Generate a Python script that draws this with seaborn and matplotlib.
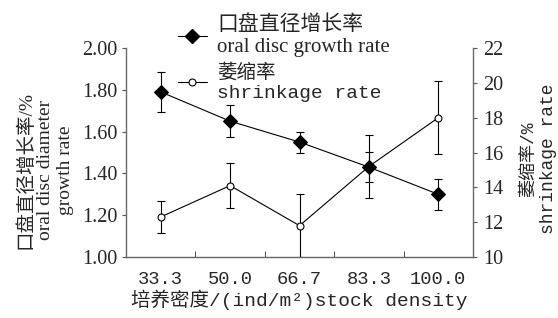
import matplotlib
matplotlib.use("Agg")
import matplotlib.pyplot as plt
import seaborn as sns
import pandas as pd
import numpy as np
from matplotlib.lines import Line2D

densities = ["33.3", "50.0", "66.7", "83.3", "100.0"]
growth_rate = [1.79, 1.65, 1.55, 1.43, 1.30]
growth_err = [0.095, 0.075, 0.05, 0.072, 0.075]
shrink_rate = [12.3, 14.1, 11.8, 15.2, 18.0]
shrink_err = [0.9, 1.3, 1.8, 1.8, 2.1]

growth_label = "口盘直径增长率\noral disc growth rate"
shrink_label = "萎缩率\nshrinkage rate"

SERIF = ["Liberation Serif", "Noto Sans CJK SC"]
MONO = ["Liberation Mono", "Noto Sans CJK SC"]

sns.set_style("ticks")
plt.rcParams["font.family"] = SERIF

df = pd.DataFrame({"pos": np.arange(len(densities)), "growth": growth_rate,
                   "g_err": growth_err, "shrink": shrink_rate, "s_err": shrink_err})

fig = plt.figure(figsize=(5.58, 3.18), dpi=100)
ax = fig.add_axes([0.2258, 0.1918, 0.6219, 0.6572])
ax2 = ax.twinx()

# shrinkage on the right axis
ax2.errorbar(df["pos"], df["shrink"], yerr=df["s_err"], fmt="none",
             ecolor="black", elinewidth=0.8, capsize=3, capthick=0.8)
sns.lineplot(data=df, x="pos", y="shrink", ax=ax2, color="black", lw=0.8,
             marker="o", markersize=5, markerfacecolor="white",
             markeredgecolor="black", markeredgewidth=0.8, legend=False)

# growth on the left axis, drawn above
ax.errorbar(df["pos"], df["growth"], yerr=df["g_err"], fmt="none",
            ecolor="black", elinewidth=0.8, capsize=3, capthick=0.8)
sns.lineplot(data=df, x="pos", y="growth", ax=ax, color="black", lw=0.8,
             marker="D", markersize=7, markerfacecolor="black",
             markeredgecolor="black", legend=False)
ax.set_zorder(ax2.get_zorder() + 1)
ax.patch.set_visible(False)

ax.set_xlim(-0.5, len(densities) - 0.5)
ax.set_ylim(1.0, 2.0)
ax2.set_ylim(10, 22)
ax.set_yticks(np.arange(1.0, 2.01, 0.2))
ax.set_yticklabels([f"{v:.2f}" for v in np.arange(1.0, 2.01, 0.2)])
ax2.set_yticks(np.arange(10, 23, 2))

ax.set_xticks(df["pos"])
ax.set_xticklabels(densities, family=MONO, fontsize=13.5)
ax.set_xticks(df["pos"][:-1] + 0.5, minor=True)
ax.tick_params(axis="x", which="major", length=0, pad=10)
ax.tick_params(axis="x", which="minor", direction="in", length=4, width=0.8, color="#555555")
ax.tick_params(axis="y", direction="out", length=3, width=0.8, color="#555555", labelsize=14.5, pad=3)
ax2.tick_params(axis="y", direction="out", length=3, width=0.8, color="#555555", labelsize=14.5, pad=4)
for t in ax2.get_yticklabels():
    t.set_family(SERIF)

ax.set_xlabel("")
ax.set_ylabel("")
ax2.set_ylabel("")

for a in (ax, ax2):
    for side in ("left", "right", "bottom"):
        a.spines[side].set_color("#666666")
        a.spines[side].set_linewidth(1.0)
    a.spines["top"].set_visible(False)
ax.spines["right"].set_visible(False)
ax2.spines["left"].set_visible(False)
ax2.spines["bottom"].set_visible(False)

fig.text(0.537, 0.025, "培养密度/(ind/m²)stock density", ha="center", va="bottom",
         family=MONO, fontsize=14)
fig.text(0.08, 0.465, "口盘直径增长率/%\noral disc diameter\ngrowth rate", rotation=90,
         ha="center", va="center", family=SERIF, fontsize=14, linespacing=1.2)
fig.text(0.965, 0.5, "萎缩率/%\nshrinkage rate", rotation=90,
         ha="center", va="center", family=MONO, fontsize=13, linespacing=1.25)

handles = [
    Line2D([], [], color="black", lw=0.8, marker="D", markersize=7,
           markerfacecolor="black"),
    Line2D([], [], color="black", lw=0.8, marker="o", markersize=5,
           markerfacecolor="white", markeredgewidth=0.8),
]
leg = fig.legend(handles, [growth_label, shrink_label], loc="upper left",
                 bbox_to_anchor=(0.285, 1.01), frameon=False,
                 handlelength=1.4, handletextpad=0.5, labelspacing=0.3,
                 prop={"family": SERIF, "size": 15})
leg.get_texts()[1].set_family(MONO)
leg.get_texts()[1].set_fontsize(14)

fig.savefig("out.png", dpi=100)
